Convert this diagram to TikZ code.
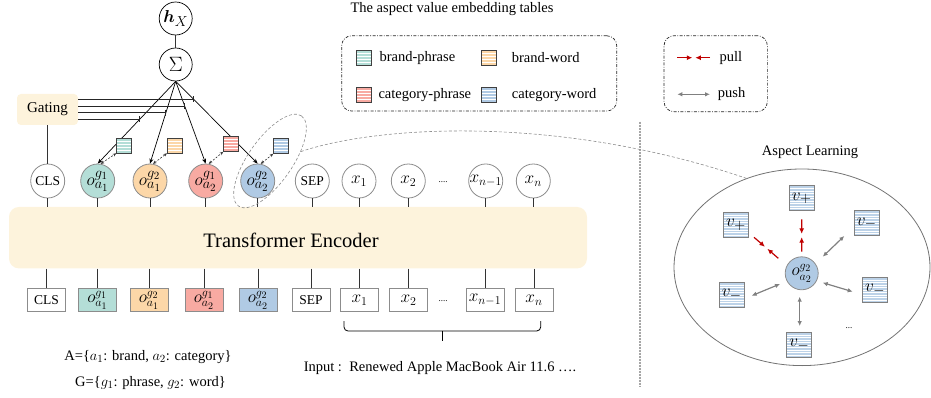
\documentclass[tikz,border=0pt]{standalone}
\usepackage{fontspec}
\setmainfont{Liberation Serif}
\usepackage{amsmath}
\usepackage{bm}
\DeclareMathSizes{19}{19}{14.5}{11}
\DeclareMathSizes{17}{17}{13}{10}
\DeclareMathSizes{16}{16}{12.5}{9.5}
\DeclareMathSizes{18}{18}{13.5}{10.5}
\DeclareMathSizes{14.5}{14.5}{11}{8.5}
\usetikzlibrary{arrows.meta,calc,shapes.geometric}
\definecolor{cream}{RGB}{253,243,220}
\definecolor{cteal}{RGB}{180,222,215}
\definecolor{corange}{RGB}{252,215,168}
\definecolor{cred}{RGB}{248,170,162}
\definecolor{cblue}{RGB}{176,202,228}
\definecolor{bord}{RGB}{140,140,140}
\definecolor{pullred}{RGB}{192,0,0}
\definecolor{pushgray}{RGB}{128,128,128}
\tikzset{
  stripes/.style={path picture={
    \foreach \k in {1,...,#1}{
      \draw[white, line width=0.5pt]
       ($(path picture bounding box.north west)!{\k/(#1+1)}!(path picture bounding box.south west)$) --
       ($(path picture bounding box.north east)!{\k/(#1+1)}!(path picture bounding box.south east)$);
    }}},
  tok/.style={circle, draw=bord, line width=0.8pt, minimum size=34pt, inner sep=0pt, font=\fontsize{13.5}{15}\selectfont},
  xtok/.style={tok, font=\fontsize{16}{18}\selectfont},
  otok/.style={tok, fill=#1, font=\fontsize{19}{21}\selectfont},
  tbox/.style={rectangle, draw=bord, line width=1pt, minimum width=38pt, minimum height=23pt, inner sep=0pt, font=\fontsize{13.5}{15}\selectfont},
  xbox/.style={tbox, font=\fontsize{16}{18}\selectfont},
  obox/.style={tbox, fill=#1, font=\fontsize{17}{19}\selectfont},
  dotsn/.style={inner sep=0pt, font=\fontsize{9}{10}\selectfont},
  ssq/.style={rectangle, draw=black!75, line width=0.6pt, minimum size=15pt, inner sep=0pt, fill=#1, stripes=4},
  vsq/.style={rectangle, draw=gray, line width=1pt, minimum size=25pt, inner sep=0pt, fill=cblue!85, stripes=9, font=\fontsize{18}{20}\selectfont},
  lbl/.style={inner sep=0pt},
  vline/.style={line width=0.7pt, black!80},
  sigline/.style={line width=0.7pt, -{Stealth[length=5pt,width=4pt]}},
  dashar/.style={line width=0.6pt, black!80, dash pattern=on 2pt off 1.5pt, {Stealth[length=3.5pt,width=3pt]}-{Stealth[length=3.5pt,width=3pt]}},
  gate/.style={line width=0.9pt, black!85, -{Bar[width=6pt]}},
  legbox/.style={draw=black!85, line width=0.7pt, rounded corners=10pt, dash pattern=on 3pt off 1.5pt on 0.8pt off 1.5pt, inner sep=0pt},
  pullh/.style={draw=pullred, line width=1.2pt, -{Latex[length=5.5pt,width=5pt]}},
  push/.style={draw=pushgray, line width=1.2pt, {Latex[length=5pt,width=4.5pt]}-{Latex[length=5pt,width=4.5pt]}},
  grdash/.style={draw=black!45, line width=0.6pt, dash pattern=on 3pt off 2pt},
}
\begin{document}
\begin{tikzpicture}[x=1pt,y=-1pt,font=\fontsize{14.5}{17}\selectfont]
\useasboundingbox (0,0) rectangle (931,398);

% top
\node[circle, draw, line width=0.7pt, minimum size=33pt, inner sep=0pt, font=\fontsize{18}{20}\selectfont] (hx) at (175.7,18.5) {$\bm{h}_X$};
\node[circle, draw, line width=0.7pt, minimum size=33pt, inner sep=0pt, font=\fontsize{20}{22}\selectfont] (S) at (175.7,64.5) {$\Sigma$};
\draw[vline] (hx) -- (S);
\node[rounded corners=4pt, fill=cream, minimum width=61pt, minimum height=31pt, inner sep=0pt, font=\fontsize{15}{17}\selectfont] (G) at (47.5,109.5) {Gating};

% token circles
\node[tok] (cCLS) at (47.7,181) {CLS};
\node[otok=cteal] (c1) at (97.7,181) {$o^{g_1}_{a_1}$};
\node[otok=corange] (c2) at (150,181) {$o^{g_2}_{a_1}$};
\node[otok=cred] (c3) at (205.7,181) {$o^{g_1}_{a_2}$};
\node[otok=cblue] (c4) at (257.7,181) {$o^{g_2}_{a_2}$};
\node[tok] (cSEP) at (312.3,181) {SEP};
\node[xtok] (cx1) at (359,181) {$x_1$};
\node[xtok] (cx2) at (408.3,181) {$x_2$};
\node[dotsn] (cdots) at (443,182) {....};
\node[xtok] (cxn1) at (485.7,181) {$x_{n-1}$};
\node[xtok] (cxn) at (533.3,181) {$x_n$};

\draw[vline] (G.south -| cCLS.north) -- (cCLS.north);

% sigma lines
\foreach \n in {c1,c2,c3,c4} \draw[sigline] (S.south) -- (\n.north);
\coordinate (gp4) at ($(S.south)!0.217!(c4.north)$);
\coordinate (gp3) at ($(S.south)!0.301!(c3.north)$);
\coordinate (gp2) at ($(S.south)!0.382!(c2.north)$);
\coordinate (gp1) at ($(S.south)!0.461!(c1.north)$);
\foreach \p in {gp1,gp2,gp3,gp4} \draw[gate] (G.east |- \p) -- (\p);

% small squares
\node[ssq=cteal] (sq1) at (124,145.5) {};
\node[ssq=corange] (sq2) at (174.7,145.5) {};
\node[ssq=cred] (sq3) at (231,144) {};
\node[ssq=cblue] (sq4) at (281,146) {};
\draw[dashar] (c1.80) -- (sq1.south west);
\draw[dashar] (c2.80) -- (sq2.south west);
\draw[dashar] (c3.80) -- (sq3.south west);
\draw[dashar] (c4.80) -- (sq4.south west);

% encoder
\node[rounded corners=10pt, fill=cream, minimum width=578pt, minimum height=61.5pt, inner sep=0pt] (E) at (298,237.7) {};
\node[font=\fontsize{20.5}{24}\selectfont] (Et) at (291,240) {Transformer Encoder};
\foreach \n in {cCLS,c1,c2,c3,c4,cSEP,cx1,cx2,cxn1,cxn} \draw[vline] (\n.south) -- (\n.south |- E.north);

% boxes
\node[tbox] (bCLS) at (46.5,300) {CLS};
\node[obox=cteal] (b1) at (97.5,300) {$o^{g_1}_{a_1}$};
\node[obox=corange] (b2) at (149,300) {$o^{g_2}_{a_1}$};
\node[obox=cred] (b3) at (204,300) {$o^{g_1}_{a_2}$};
\node[obox=cblue] (b4) at (258,300) {$o^{g_2}_{a_2}$};
\node[tbox] (bSEP) at (311,300) {SEP};
\node[xbox] (bx1) at (359.5,300) {$x_1$};
\node[xbox] (bx2) at (408.5,300) {$x_2$};
\node[dotsn] (bdots) at (443,301) {....};
\node[xbox] (bxn1) at (485,300) {$x_{n-1}$};
\node[xbox] (bxn) at (534,300) {$x_n$};
\foreach \n in {bCLS,b1,b2,b3,b4,bSEP,bx1,bx2,bxn1,bxn} \draw[vline] (E.south -| \n.north) -- (\n.north);

% brace
\coordinate (brL) at (344,321);
\coordinate (brR) at (540.7,321);
\coordinate (brM) at (442.3,330.5);
\draw[line width=0.8pt, rounded corners=4pt] (brL) -- ($(brL)+(0,10)$) -- ($(brR)+(0,10)$) -- (brR);
\draw[line width=1.6pt] (brM) -- ++(0,10.5);

\node[lbl] (inp) at (440,368) {Input :\ \ Renewed Apple MacBook Air 11.6 \char"2026.};
\node[lbl] (Aset) at (148,357.3) {A=\{$a_1$: brand, $a_2$: category\}};
\node[lbl] (Gset) at (150.5,383.3) {G=\{$g_1$: phrase, $g_2$: word\}};

% legend 1
\node[lbl] (title) at (452,9) {The aspect value embedding tables};
\node[legbox, minimum width=275pt, minimum height=75.3pt] (L1) at (479.2,73.4) {};
\node[ssq=cteal] (lg1) at (364,58) {};
\node[ssq=corange] (lg2) at (489,58) {};
\node[ssq=cred] (lg3) at (364,95) {};
\node[ssq=cblue] (lg4) at (489,95) {};
\node[lbl, anchor=west] (lt1) at (379.3,58) {brand-phrase};
\node[lbl, anchor=west] (lt2) at (511.7,58) {brand-word};
\node[lbl, anchor=west] (lt3) at (378.3,95) {category-phrase};
\node[lbl, anchor=west] (lt4) at (511.7,95) {category-word};

% legend 2
\node[legbox, minimum width=103.3pt, minimum height=76pt] (L2) at (715.7,73.7) {};
\coordinate (pl1) at (677.3,57.7);
\coordinate (pl2) at (710,57.7);
\coordinate (plm1) at (692.3,57.7);
\coordinate (plm2) at (695.3,57.7);
\draw[pullh] (pl1) -- (plm1);
\draw[pullh] (pl2) -- (plm2);
\node[lbl, anchor=west] (tpull) at (719.3,57.7) {pull};
\coordinate (ps1) at (677.3,94.3);
\coordinate (ps2) at (710,94.3);
\draw[push] (ps1) -- (ps2);
\node[lbl, anchor=west] (tpush) at (717.7,94.3) {push};

% separator
\coordinate (sepT) at (640,121.7);
\coordinate (sepB) at (640,386);
\draw[draw=black!35, line width=1.1pt, dash pattern=on 2pt off 1pt] (sepT) -- (sepB);

% zoom ellipse and link
\node[ellipse, grdash, rotate=55, minimum width=110pt, minimum height=44pt, inner sep=0pt] (zm) at (270,161) {};
\node[ellipse, draw=black!55, line width=0.8pt, minimum width=256pt, minimum height=196.6pt, inner sep=0pt] (AL) at (802,267.3) {};
\draw[grdash] (zm.-38) .. controls (380,125) and (560,115) .. (AL.122.5);
\node[lbl] (ALt) at (810,152.7) {Aspect Learning};

% aspect learning content
\node[tok, fill=cblue, minimum size=33pt, font=\fontsize{17}{19}\selectfont] (O) at (801.7,273.3) {$o^{g_2}_{a_2}$};
\node[vsq] (vpt) at (801.7,198.3) {$v_+$};
\node[vsq] (vpl) at (736,225) {$v_+$};
\node[vsq] (vmtr) at (866.7,223.3) {$v_-$};
\node[vsq] (vml) at (731.7,295) {$v_-$};
\node[vsq] (vmr) at (875,290) {$v_-$};
\node[vsq] (vmb) at (799.3,345) {$v_-$};
\node[dotsn] (rdots) at (849,328.3) {...};

% pull arrows
\coordinate (a1s) at (801.7,219.3); \coordinate (a1e) at (801.7,251.7);
\draw[pullh] (a1s) -- ($(a1s)!0.45!(a1e)$);
\draw[pullh] (a1e) -- ($(a1s)!0.55!(a1e)$);
\coordinate (a2s) at (754,237.3); \coordinate (a2e) at (778.3,258.3);
\draw[pullh] (a2s) -- ($(a2s)!0.45!(a2e)$);
\draw[pullh] (a2e) -- ($(a2s)!0.55!(a2e)$);
% push arrows
\coordinate (a3s) at (822.7,256.7); \coordinate (a3e) at (844.3,236);
\draw[push] (a3s) -- (a3e);
\coordinate (a4s) at (822.7,282.7); \coordinate (a4e) at (852.7,291.7);
\draw[push] (a4s) -- (a4e);
\coordinate (a5s) at (780,284); \coordinate (a5e) at (751.7,295.7);
\draw[push] (a5s) -- (a5e);
\coordinate (a6s) at (799.7,296.7); \coordinate (a6e) at (799.7,326);
\draw[push] (a6s) -- (a6e);
\end{tikzpicture}
\end{document}
